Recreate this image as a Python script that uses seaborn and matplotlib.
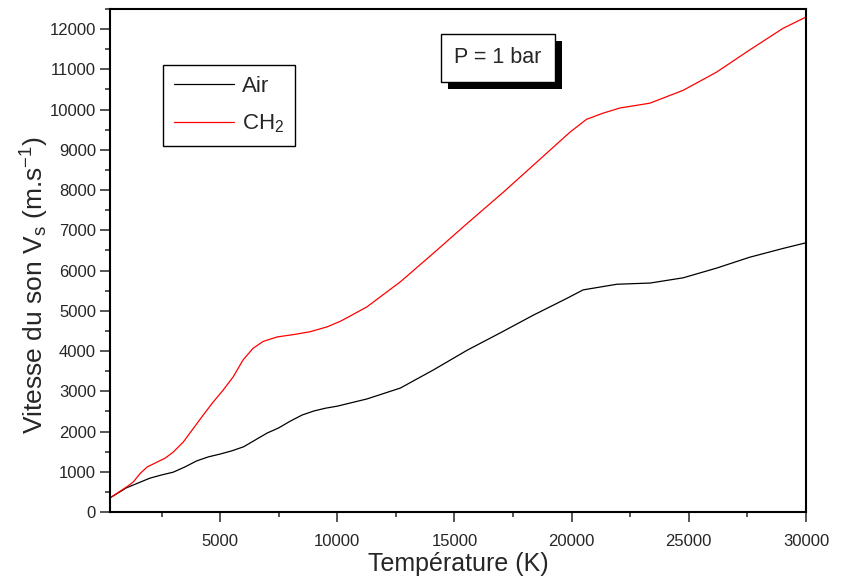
import matplotlib
matplotlib.use("Agg")
import matplotlib.pyplot as plt
import matplotlib.patheffects as pe
from matplotlib.ticker import MultipleLocator
import seaborn as sns
import pandas as pd

# Data
T_air = [300, 1000, 1500, 2000, 2500, 3000, 3500, 4000, 4500, 5000, 5500, 6000, 6500,
         7000, 7500, 8000, 8500, 9000, 9500, 10000, 11270, 12690, 14100, 15540,
         16950, 18360, 19800, 20490, 21210, 21930, 23350, 24760, 26180, 27590,
         29020, 30000]
V_air = [350, 600, 720, 840, 920, 990, 1120, 1270, 1370, 1440, 1520, 1620, 1790,
         1960, 2090, 2260, 2410, 2510, 2580, 2630, 2810, 3080, 3530, 4020,
         4450, 4890, 5310, 5520, 5590, 5660, 5690, 5820, 6060, 6330,
         6550, 6690]

T_ch2 = [300, 1080, 1300, 1590, 1890, 2310, 2660, 3000, 3430, 3860, 4280, 4700,
         5130, 5560, 5980, 6410, 6840, 7430, 8140, 8840, 9560, 10130, 10550,
         11270, 12690, 14100, 15540, 17090, 18520, 19930, 20640, 21330, 22060,
         23340, 24760, 26180, 27590, 29020, 30000]
V_ch2 = [350, 650, 750, 960, 1120, 1240, 1340, 1490, 1740, 2080, 2410, 2730,
         3030, 3360, 3780, 4070, 4240, 4350, 4410, 4480, 4600, 4740, 4870,
         5100, 5720, 6430, 7170, 7950, 8700, 9440, 9760, 9910, 10040,
         10160, 10480, 10930, 11480, 12020, 12300]

series_names = ["Air", "CH$_2$"]
series_colors = ["black", "red"]

df = pd.concat([
    pd.DataFrame({"T": T_air, "V": V_air, "gaz": series_names[0]}),
    pd.DataFrame({"T": T_ch2, "V": V_ch2, "gaz": series_names[1]}),
])

sns.set_theme(style="ticks")
plt.rcParams["font.family"] = ["Liberation Sans", "DejaVu Sans"]
plt.rcParams["mathtext.default"] = "regular"

fig = plt.figure(figsize=(8.46, 5.78), dpi=100)
ax = fig.add_axes([0.130, 0.1142, 0.8227, 0.8702])

sns.lineplot(data=df, x="T", y="V", hue="gaz", palette=series_colors,
             linewidth=0.9, ax=ax, sort=False, estimator=None)

ax.set_xlim(300, 30000)
ax.set_ylim(0, 12500)
ax.xaxis.set_major_locator(MultipleLocator(5000))
ax.xaxis.set_minor_locator(MultipleLocator(2500))
ax.yaxis.set_major_locator(MultipleLocator(1000))
ax.yaxis.set_minor_locator(MultipleLocator(500))
ax.tick_params(which="major", direction="out", length=7, width=1.1, labelsize=12)
ax.tick_params(which="minor", direction="out", length=3.5, width=1.1)
ax.tick_params(axis="x", which="major", pad=9)
ax.tick_params(axis="y", which="major", pad=3)
for s in ax.spines.values():
    s.set_linewidth(1.5)
    s.set_color("black")
    s.set_visible(True)

ax.set_xlabel("Température (K)", fontsize=18, labelpad=2)
ax.set_ylabel("Vitesse du son V$_s$ (m.s$^{-1}$)", fontsize=19)
ax.yaxis.set_label_coords(-0.085, 0.451)

leg = ax.legend(loc="upper left", bbox_to_anchor=(0.076, 0.889), borderaxespad=0,
                fontsize=16, frameon=True, fancybox=False, edgecolor="black",
                handlelength=2.7, handletextpad=0.35, labelspacing=0.7,
                borderpad=0.5)
leg.get_frame().set_linewidth(1.0)
leg.get_frame().set_alpha(1)

txt = ax.text(0.557, 0.903, "P = 1 bar", transform=ax.transAxes, fontsize=15.5,
              ha="center", va="center",
              bbox=dict(boxstyle="square,pad=0.62", fc="white", ec="black", lw=1.0))
txt.get_bbox_patch().set_path_effects([
    pe.SimplePatchShadow(offset=(5, -5), shadow_rgbFace="black", alpha=1.0),
    pe.Normal()])

fig.savefig("out.png", dpi=100)
